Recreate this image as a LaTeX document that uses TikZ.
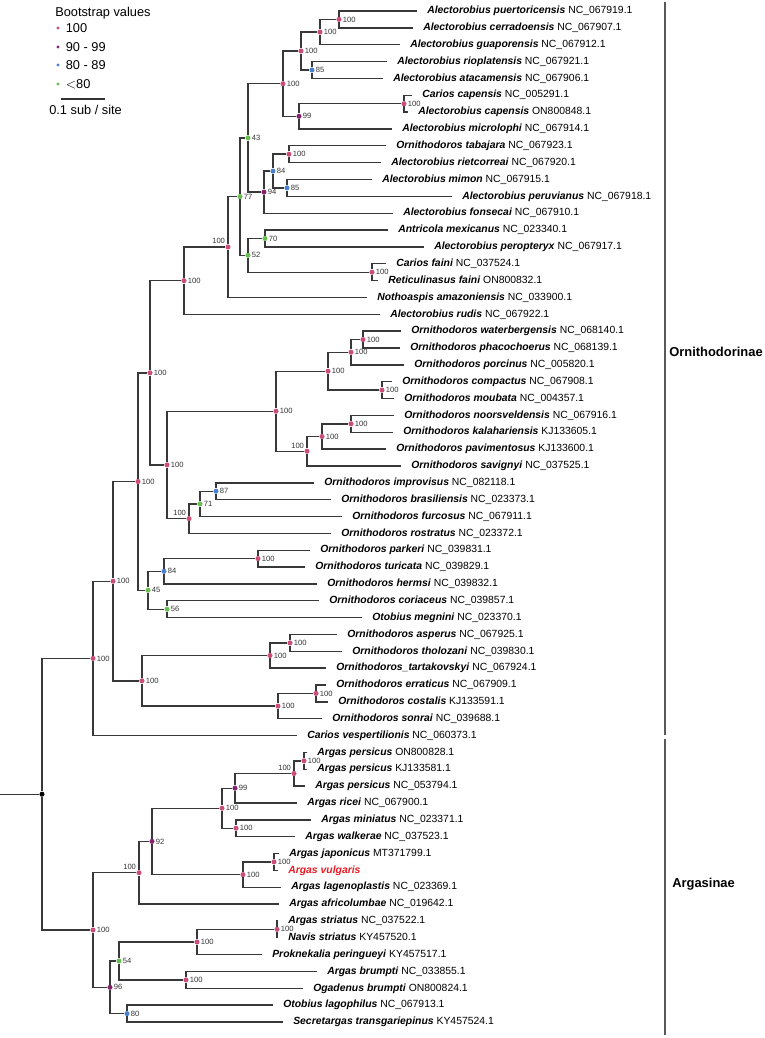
\documentclass[tikz,border=0pt]{standalone}
\usepackage{fontspec}
\setmainfont{Liberation Sans}
\usetikzlibrary{positioning}

\definecolor{bspink}{RGB}{204,76,122}
\definecolor{bspurple}{RGB}{132,34,106}
\definecolor{bsblue}{RGB}{74,128,204}
\definecolor{bsgreen}{RGB}{104,190,82}
\definecolor{vulgred}{RGB}{232,28,36}

\newcommand{\taxon}[2]{\textbf{\textit{#1}} #2}

\begin{document}
\begin{tikzpicture}[
        x=0.75pt, y=-0.75pt,
        branch/.style={line width=1.05pt, draw=black!78},
        bsdot/.style={circle, inner sep=0pt, minimum size=3.8pt},
        bs100/.style={bsdot, fill=bspink},
        bs90/.style={bsdot, fill=bspurple},
        bs80/.style={bsdot, fill=bsblue},
        bslow/.style={bsdot, fill=bsgreen},
        bsl/.style={font=\fontsize{5.7}{6}\selectfont, text=black!80, inner sep=0.6pt},
        leaf/.style={anchor=west, inner xsep=7.5pt, inner ysep=0pt, text height=5.8pt, text depth=1.7pt, font=\fontsize{7.8}{9}\selectfont},
        legtxt/.style={anchor=west, inner sep=0pt, font=\fontsize{9.6}{11}\selectfont},
        legdot/.style={circle, inner sep=0pt, minimum size=2.6pt},
        clade/.style={line width=1.2pt, draw=black!65},
        cladetxt/.style={anchor=west, inner sep=0pt, font=\fontsize{9.7}{11}\selectfont\bfseries},
    ]
    \useasboundingbox[fill=white] (0,0) rectangle (764,1038);

    % === Legend ===
    \node[legtxt] (legtitle) at (55,13) {Bootstrap values};
    \node[legdot, fill=bspink] (ld100) at (58,28) {};
    \node[legdot, fill=bspurple] (ld90) at (58,47) {};
    \node[legdot, fill=bsblue] (ld80) at (58,65) {};
    \node[legdot, fill=bsgreen] (ldlow) at (58,84) {};
    \node[legtxt, right=4.2pt of ld100] (lt100) {100};
    \node[legtxt, right=4.2pt of ld90] (lt90) {90 - 99};
    \node[legtxt, right=4.2pt of ld80] (lt80) {80 - 89};
    \node[legtxt, right=4.2pt of ldlow] (ltlow) {$<$80};
    \coordinate (sbl) at (61,99);
    \coordinate (sbr) at (105,99);
    \draw[line width=0.8pt, black!80] (sbl) -- (sbr);
    \node[legtxt] (sbtxt) at (49,110) {0.1 sub / site};

    % === Tips ===
    \node[leaf] (puert) at (417,11.0) {\taxon{Alectorobius puertoricensis}{NC\_067919.1}};
    \node[leaf] (cerra) at (413,27.85) {\taxon{Alectorobius cerradoensis}{NC\_067907.1}};
    \node[leaf] (guapo) at (400,44.7) {\taxon{Alectorobius guaporensis}{NC\_067912.1}};
    \node[leaf] (riopl) at (387,61.55) {\taxon{Alectorobius rioplatensis}{NC\_067921.1}};
    \node[leaf] (ataca) at (383,78.4) {\taxon{Alectorobius atacamensis}{NC\_067906.1}};
    \node[leaf] (ccape) at (412,95.25) {\taxon{Carios capensis}{NC\_005291.1}};
    \node[leaf] (acape) at (408,112.1) {\taxon{Alectorobius capensis}{ON800848.1}};
    \node[leaf] (micro) at (392,128.95) {\taxon{Alectorobius microlophi}{NC\_067914.1}};
    \node[leaf] (tabaj) at (386,145.8) {\taxon{Ornithodoros tabajara}{NC\_067923.1}};
    \node[leaf] (rietc) at (381,162.65) {\taxon{Alectorobius rietcorreai}{NC\_067920.1}};
    \node[leaf] (mimon) at (372,179.5) {\taxon{Alectorobius mimon}{NC\_067915.1}};
    \node[leaf] (peruv) at (452,196.35) {\taxon{Alectorobius peruvianus}{NC\_067918.1}};
    \node[leaf] (fonse) at (393,213.2) {\taxon{Alectorobius fonsecai}{NC\_067910.1}};
    \node[leaf] (antri) at (388,230.05) {\taxon{Antricola mexicanus}{NC\_023340.1}};
    \node[leaf] (perop) at (424,246.9) {\taxon{Alectorobius peropteryx}{NC\_067917.1}};
    \node[leaf] (cfain) at (386,263.75) {\taxon{Carios faini}{NC\_037524.1}};
    \node[leaf] (rfain) at (378,280.6) {\taxon{Reticulinasus faini}{ON800832.1}};
    \node[leaf] (notho) at (367,297.45) {\taxon{Nothoaspis amazoniensis}{NC\_033900.1}};
    \node[leaf] (rudis) at (380,314.3) {\taxon{Alectorobius rudis}{NC\_067922.1}};
    \node[leaf] (water) at (401,331.15) {\taxon{Ornithodoros waterbergensis}{NC\_068140.1}};
    \node[leaf] (phaco) at (400,348.0) {\taxon{Ornithodoros phacochoerus}{NC\_068139.1}};
    \node[leaf] (porci) at (404,364.85) {\taxon{Ornithodoros porcinus}{NC\_005820.1}};
    \node[leaf] (compa) at (392,381.7) {\taxon{Ornithodoros compactus}{NC\_067908.1}};
    \node[leaf] (mouba) at (394,398.55) {\taxon{Ornithodoros moubata}{NC\_004357.1}};
    \node[leaf] (noors) at (394,415.4) {\taxon{Ornithodoros noorsveldensis}{NC\_067916.1}};
    \node[leaf] (kalah) at (393,432.25) {\taxon{Ornithodoros kalahariensis}{KJ133605.1}};
    \node[leaf] (pavim) at (386,449.1) {\taxon{Ornithodoros pavimentosus}{KJ133600.1}};
    \node[leaf] (savig) at (401,465.95) {\taxon{Ornithodoros savignyi}{NC\_037525.1}};
    \node[leaf] (impro) at (314,482.8) {\taxon{Ornithodoros improvisus}{NC\_082118.1}};
    \node[leaf] (brasi) at (331,499.65) {\taxon{Ornithodoros brasiliensis}{NC\_023373.1}};
    \node[leaf] (furco) at (342,516.5) {\taxon{Ornithodoros furcosus}{NC\_067911.1}};
    \node[leaf] (rostr) at (331,533.35) {\taxon{Ornithodoros rostratus}{NC\_023372.1}};
    \node[leaf] (parke) at (310,550.2) {\taxon{Ornithodoros parkeri}{NC\_039831.1}};
    \node[leaf] (turic) at (305,567.05) {\taxon{Ornithodoros turicata}{NC\_039829.1}};
    \node[leaf] (herms) at (317,583.9) {\taxon{Ornithodoros hermsi}{NC\_039832.1}};
    \node[leaf] (coria) at (319,600.75) {\taxon{Ornithodoros coriaceus}{NC\_039857.1}};
    \node[leaf] (megni) at (362,617.6) {\taxon{Otobius megnini}{NC\_023370.1}};
    \node[leaf] (asper) at (337,634.45) {\taxon{Ornithodoros asperus}{NC\_067925.1}};
    \node[leaf] (tholo) at (342,651.3) {\taxon{Ornithodoros tholozani}{NC\_039830.1}};
    \node[leaf] (tarta) at (326,668.15) {\taxon{Ornithodoros\_tartakovskyi}{NC\_067924.1}};
    \node[leaf] (errat) at (326,685.0) {\taxon{Ornithodoros erraticus}{NC\_067909.1}};
    \node[leaf] (costa) at (328,701.85) {\taxon{Ornithodoros costalis}{KJ133591.1}};
    \node[leaf] (sonra) at (322,718.7) {\taxon{Ornithodoros sonrai}{NC\_039688.1}};
    \node[leaf] (vespe) at (297,735.55) {\taxon{Carios vespertilionis}{NC\_060373.1}};
    \node[leaf] (pers1) at (307,752.4) {\taxon{Argas persicus}{ON800828.1}};
    \node[leaf] (pers2) at (307,769.25) {\taxon{Argas persicus}{KJ133581.1}};
    \node[leaf] (pers3) at (305,786.1) {\taxon{Argas persicus}{NC\_053794.1}};
    \node[leaf] (ricei) at (297,802.95) {\taxon{Argas ricei}{NC\_067900.1}};
    \node[leaf] (minia) at (311,819.8) {\taxon{Argas miniatus}{NC\_023371.1}};
    \node[leaf] (walke) at (295,836.65) {\taxon{Argas walkerae}{NC\_037523.1}};
    \node[leaf] (japon) at (279,853.5) {\taxon{Argas japonicus}{MT371799.1}};
    \node[leaf] (vulga) at (278,870.35) {\textcolor{vulgred}{\textbf{\textit{Argas vulgaris}}}};
    \node[leaf] (lagen) at (281,887.2) {\taxon{Argas lagenoplastis}{NC\_023369.1}};
    \node[leaf] (afric) at (279,904.05) {\taxon{Argas africolumbae}{NC\_019642.1}};
    \node[leaf] (astri) at (278,920.9) {\taxon{Argas striatus}{NC\_037522.1}};
    \node[leaf] (nstri) at (278,937.75) {\taxon{Navis striatus}{KY457520.1}};
    \node[leaf] (prokn) at (262,954.6) {\taxon{Proknekalia peringueyi}{KY457517.1}};
    \node[leaf] (abrum) at (317,971.45) {\taxon{Argas brumpti}{NC\_033855.1}};
    \node[leaf] (obrum) at (303,988.3) {\taxon{Ogadenus brumpti}{ON800824.1}};
    \node[leaf] (lagop) at (273,1005.15) {\taxon{Otobius lagophilus}{NC\_067913.1}};
    \node[leaf] (secre) at (283,1022.0) {\taxon{Secretargas transgariepinus}{KY457524.1}};

    % === Ornithodorinae: Alectorobius / Carios ===
    \node[bs100, label={[bsl]right:100}] (a1) at (339,19.4) {};
    \node[bs100, label={[bsl]right:100}] (a2) at (320,32.05) {};
    \node[bs80, label={[bsl]right:85}] (a4) at (312,70.0) {};
    \node[bs100, label={[bsl]right:100}] (a3) at (301,51.0) {};
    \node[bs100, label={[bsl]right:100}] (a7) at (404,103.7) {};
    \node[bs90, label={[bsl]right:99}] (a6) at (299,116.3) {};
    \node[bs100, label={[bsl]right:100}] (a5) at (283,83.7) {};
    \node[bs100, label={[bsl]right:100}] (a10) at (289,154.2) {};
    \node[bs80, label={[bsl]right:85}] (a11) at (287,187.9) {};
    \node[bs80, label={[bsl]right:84}] (a9) at (273,171.1) {};
    \node[bs90, label={[bsl]right:94}] (a12) at (264,192.1) {};
    \node[bslow, label={[bsl]right:43}] (a8) at (248,137.9) {};
    \node[bslow, label={[bsl]right:70}] (a14) at (265,238.5) {};
    \node[bs100, label={[bsl]right:100}] (a15) at (372,272.2) {};
    \node[bslow, label={[bsl]right:52}] (a13) at (248,255.3) {};
    \node[bslow, label={[bsl]right:77}] (a16) at (240,196.6) {};
    \node[bs100, label={[bsl]above left:100}] (a17) at (228,247.0) {};
    \node[bs100, label={[bsl]right:100}] (a18) at (184,280.7) {};

    \draw[branch] (puert) -| (a1) |- (cerra);
    \draw[branch] (a1) -| (a2) |- (guapo);
    \draw[branch] (riopl) -| (a4) |- (ataca);
    \draw[branch] (a2) -| (a3) |- (a4);
    \draw[branch] (ccape) -| (a7) |- (acape);
    \draw[branch] (a7) -| (a6) |- (micro);
    \draw[branch] (a3) -| (a5) |- (a6);
    \draw[branch] (tabaj) -| (a10) |- (rietc);
    \draw[branch] (mimon) -| (a11) |- (peruv);
    \draw[branch] (a10) -| (a9) |- (a11);
    \draw[branch] (a9) -| (a12) |- (fonse);
    \draw[branch] (a5) -| (a8) |- (a12);
    \draw[branch] (antri) -| (a14) |- (perop);
    \draw[branch] (cfain) -| (a15) |- (rfain);
    \draw[branch] (a14) -| (a13) |- (a15);
    \draw[branch] (a8) -| (a16) |- (a13);
    \draw[branch] (a16) -| (a17) |- (notho);
    \draw[branch] (a17) -| (a18) |- (rudis);

    % === Ornithodorinae: Ornithodoros ===
    \node[bs100, label={[bsl]right:100}] (o6) at (363,339.6) {};
    \node[bs100, label={[bsl]right:100}] (o4) at (351,352.2) {};
    \node[bs100, label={[bsl]right:100}] (o5) at (382,390.1) {};
    \node[bs100, label={[bsl]right:100}] (o2) at (328,371.2) {};
    \node[bs100, label={[bsl]right:100}] (o8) at (351,423.8) {};
    \node[bs100, label={[bsl]right:100}] (o7) at (322,436.5) {};
    \node[bs100, label={[bsl]above left:100}] (o3) at (307,451.2) {};
    \node[bs100, label={[bsl]right:100}] (o1) at (276,411.2) {};
    \node[bs80, label={[bsl]right:87}] (o11) at (216,491.2) {};
    \node[bslow, label={[bsl]right:71}] (o10) at (200,503.9) {};
    \node[bs100, label={[bsl]above left:100}] (o9) at (189,518.6) {};
    \node[bs100, label={[bsl]right:100}] (o12) at (167,464.9) {};
    \node[bs100, label={[bsl]right:100}] (o13) at (150,372.8) {};
    \node[bs100, label={[bsl]right:100}] (o16) at (258,558.6) {};
    \node[bs80, label={[bsl]right:84}] (o15) at (164,571.3) {};
    \node[bslow, label={[bsl]right:56}] (o17) at (167,609.2) {};
    \node[bslow, label={[bsl]right:45}] (o14) at (148,590.2) {};
    \node[bs100, label={[bsl]right:100}] (o18) at (138,481.5) {};
    \node[bs100, label={[bsl]right:100}] (o21) at (290,642.9) {};
    \node[bs100, label={[bsl]right:100}] (o20) at (270,655.5) {};
    \node[bs100, label={[bsl]right:100}] (o23) at (316,693.4) {};
    \node[bs100, label={[bsl]right:100}] (o22) at (278,706.1) {};
    \node[bs100, label={[bsl]right:100}] (o19) at (142,680.8) {};
    \node[bs100, label={[bsl]right:100}] (o24) at (113,581.2) {};
    \node[bs100, label={[bsl]right:100}] (o25) at (93,658.4) {};

    \draw[branch] (water) -| (o6) |- (phaco);
    \draw[branch] (o6) -| (o4) |- (porci);
    \draw[branch] (compa) -| (o5) |- (mouba);
    \draw[branch] (o4) -| (o2) |- (o5);
    \draw[branch] (noors) -| (o8) |- (kalah);
    \draw[branch] (o8) -| (o7) |- (pavim);
    \draw[branch] (o7) -| (o3) |- (savig);
    \draw[branch] (o2) -| (o1) |- (o3);
    \draw[branch] (impro) -| (o11) |- (brasi);
    \draw[branch] (o11) -| (o10) |- (furco);
    \draw[branch] (o10) -| (o9) |- (rostr);
    \draw[branch] (o1) -| (o12) |- (o9);
    \draw[branch] (a18) -| (o13) |- (o12);
    \draw[branch] (parke) -| (o16) |- (turic);
    \draw[branch] (o16) -| (o15) |- (herms);
    \draw[branch] (coria) -| (o17) |- (megni);
    \draw[branch] (o15) -| (o14) |- (o17);
    \draw[branch] (o13) -| (o18) |- (o14);
    \draw[branch] (asper) -| (o21) |- (tholo);
    \draw[branch] (o21) -| (o20) |- (tarta);
    \draw[branch] (errat) -| (o23) |- (costa);
    \draw[branch] (o23) -| (o22) |- (sonra);
    \draw[branch] (o20) -| (o19) |- (o22);
    \draw[branch] (o18) -| (o24) |- (o19);
    \draw[branch] (o24) -| (o25) |- (vespe);

    % === Argasinae ===
    \node[bs100, label={[bsl]right:100}] (g1) at (304,760.8) {};
    \node[bs100, label={[bsl]above left:100}] (g2) at (294,773.5) {};
    \node[bs90, label={[bsl]right:99}] (g3) at (235,788.2) {};
    \node[bs100, label={[bsl]right:100}] (g4) at (236,828.2) {};
    \node[bs100, label={[bsl]right:100}] (g5) at (222,808.2) {};
    \node[bs100, label={[bsl]right:100}] (g6) at (274,861.9) {};
    \node[bs100, label={[bsl]right:100}] (g7) at (243,874.6) {};
    \node[bs90, label={[bsl]right:92}] (g8) at (152,841.4) {};
    \node[bs100, label={[bsl]above left:100}] (g9) at (139,872.7) {};
    \node[bs100, label={[bsl]right:100}] (g10) at (277,929.3) {};
    \node[bs100, label={[bsl]right:100}] (g11) at (197,942.0) {};
    \node[bs100, label={[bsl]right:100}] (g12) at (186,979.9) {};
    \node[bslow, label={[bsl]right:54}] (g13) at (119,961.0) {};
    \node[bs80, label={[bsl]right:80}] (g14) at (127,1013.6) {};
    \node[bs90, label={[bsl]right:96}] (g15) at (110,987.3) {};
    \node[bs100, label={[bsl]right:100}] (g16) at (93,930.0) {};

    \draw[branch] (pers1) -| (g1) |- (pers2);
    \draw[branch] (g1) -| (g2) |- (pers3);
    \draw[branch] (g2) -| (g3) |- (ricei);
    \draw[branch] (minia) -| (g4) |- (walke);
    \draw[branch] (g3) -| (g5) |- (g4);
    \draw[branch] (japon) -| (g6) |- (vulga);
    \draw[branch] (g6) -| (g7) |- (lagen);
    \draw[branch] (g5) -| (g8) |- (g7);
    \draw[branch] (g8) -| (g9) |- (afric);
    \draw[branch] (astri) -| (g10) |- (nstri);
    \draw[branch] (g10) -| (g11) |- (prokn);
    \draw[branch] (abrum) -| (g12) |- (obrum);
    \draw[branch] (g11) -| (g13) |- (g12);
    \draw[branch] (lagop) -| (g14) |- (secre);
    \draw[branch] (g13) -| (g15) |- (g14);
    \draw[branch] (g9) -| (g16) |- (g15);

    % === Root ===
    \node[bsdot, fill=black] (root) at (42,794.2) {};
    \coordinate (rootin) at (0,794.2);
    \draw[branch] (rootin) -- (root);
    \draw[branch] (o25) -| (root) |- (g16);

    % === Subfamily bars ===
    \coordinate (ornA) at (665,2);
    \coordinate (ornB) at (665,735);
    \coordinate (argA) at (665,739);
    \coordinate (argB) at (665,1035);
    \draw[clade] (ornA) -- (ornB);
    \draw[clade] (argA) -- (argB);
    \node[cladetxt] (ornlbl) at (669,352) {Ornithodorinae};
    \node[cladetxt] (arglbl) at (672,884) {Argasinae};

\end{tikzpicture}
\end{document}
